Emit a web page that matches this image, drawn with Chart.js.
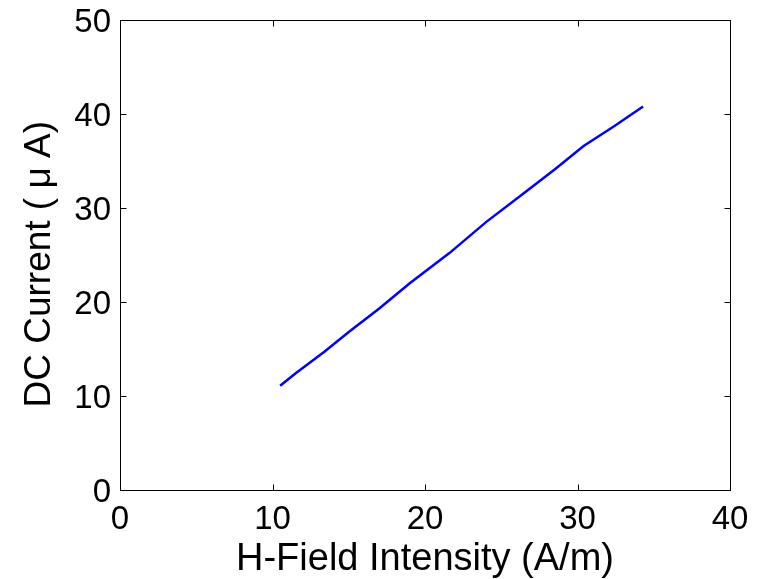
<!DOCTYPE html>
<html>
<head>
<meta charset="utf-8">
<script src="https://cdn.jsdelivr.net/npm/chart.js@4"></script>
<style>
  html, body { margin: 0; padding: 0; background: #fff; }
  #wrap { width: 764px; height: 579px; }
</style>
</head>
<body>
<div id="wrap"><canvas id="c" width="764" height="579"></canvas></div>
<script>
// Measured H-field intensity (A/m) and resulting DC current (µA)
const hField = [10.5, 11.5, 13.4, 15.0, 17.0, 19.0, 21.6, 24.0, 26.5, 28.5, 30.4, 32.4, 34.3];
const dcCurrent = [11.1, 12.4, 14.7, 16.8, 19.3, 22.0, 25.2, 28.5, 31.6, 34.1, 36.6, 38.7, 40.8];
const xTicks = [0, 10, 20, 30, 40];
const yTicks = [0, 10, 20, 30, 40, 50];

const FONT = '"Liberation Sans", Arial, sans-serif';

// Frame box with short inward tick marks on all four sides
const boxTicks = {
  id: 'boxTicks',
  afterDraw(chart) {
    const { ctx, chartArea: a, scales: { x, y } } = chart;
    const len = 6;
    ctx.save();
    ctx.strokeStyle = '#000';
    ctx.lineWidth = 1;
    const l = Math.round(a.left) + 0.5, r = Math.round(a.right) + 0.5;
    const t = Math.round(a.top) + 0.5, b = Math.round(a.bottom) + 0.5;
    ctx.strokeRect(l, t, r - l, b - t);
    ctx.beginPath();
    xTicks.forEach(v => {
      const px = Math.round(x.getPixelForValue(v)) + 0.5;
      ctx.moveTo(px, b); ctx.lineTo(px, b - len);
      ctx.moveTo(px, t); ctx.lineTo(px, t + len);
    });
    yTicks.forEach(v => {
      const py = Math.round(y.getPixelForValue(v)) + 0.5;
      ctx.moveTo(l, py); ctx.lineTo(l + len, py);
      ctx.moveTo(r, py); ctx.lineTo(r - len, py);
    });
    ctx.stroke();
    ctx.restore();
  }
};

new Chart(document.getElementById('c'), {
  type: 'line',
  data: {
    datasets: [{
      data: hField.map((h, i) => ({ x: h, y: dcCurrent[i] })),
      borderColor: '#0000FF',
      borderWidth: 2.5,
      pointRadius: 0,
      tension: 0,
      fill: false
    }]
  },
  options: {
    responsive: false,
    animation: false,
    layout: { padding: { top: 20, right: 34, left: 0, bottom: 0 } },
    plugins: { legend: { display: false }, tooltip: { enabled: false } },
    scales: {
      x: {
        type: 'linear',
        min: 0, max: 40,
        afterBuildTicks: s => { s.ticks = xTicks.map(v => ({ value: v })); },
        afterFit: s => { s.height = 89; s.paddingLeft = 0; s.paddingRight = 0; },
        grid: { display: false, drawTicks: false },
        border: { display: false },
        ticks: { color: '#000', font: { family: FONT, size: 33 }, padding: 10, maxRotation: 0 },
        title: {
          display: true,
          text: 'H-Field Intensity (A/m)',
          color: '#000',
          font: { family: FONT, size: 38 },
          padding: { top: 0, bottom: -3 }
        }
      },
      y: {
        type: 'linear',
        min: 0, max: 50,
        afterBuildTicks: s => { s.ticks = yTicks.map(v => ({ value: v })); },
        afterFit: s => { s.width = 120; s.paddingTop = 0; s.paddingBottom = 0; },
        grid: { display: false, drawTicks: false },
        border: { display: false },
        ticks: { color: '#000', font: { family: FONT, size: 33 }, padding: 9, labelOffset: 3 },
        title: {
          display: true,
          text: 'DC Current (\u2005μ\u2005A)\u2002',
          color: '#000',
          font: { family: FONT, size: 37 },
          padding: { top: 18, bottom: 0 }
        }
      }
    }
  },
  plugins: [boxTicks]
});
</script>
</body>
</html>
